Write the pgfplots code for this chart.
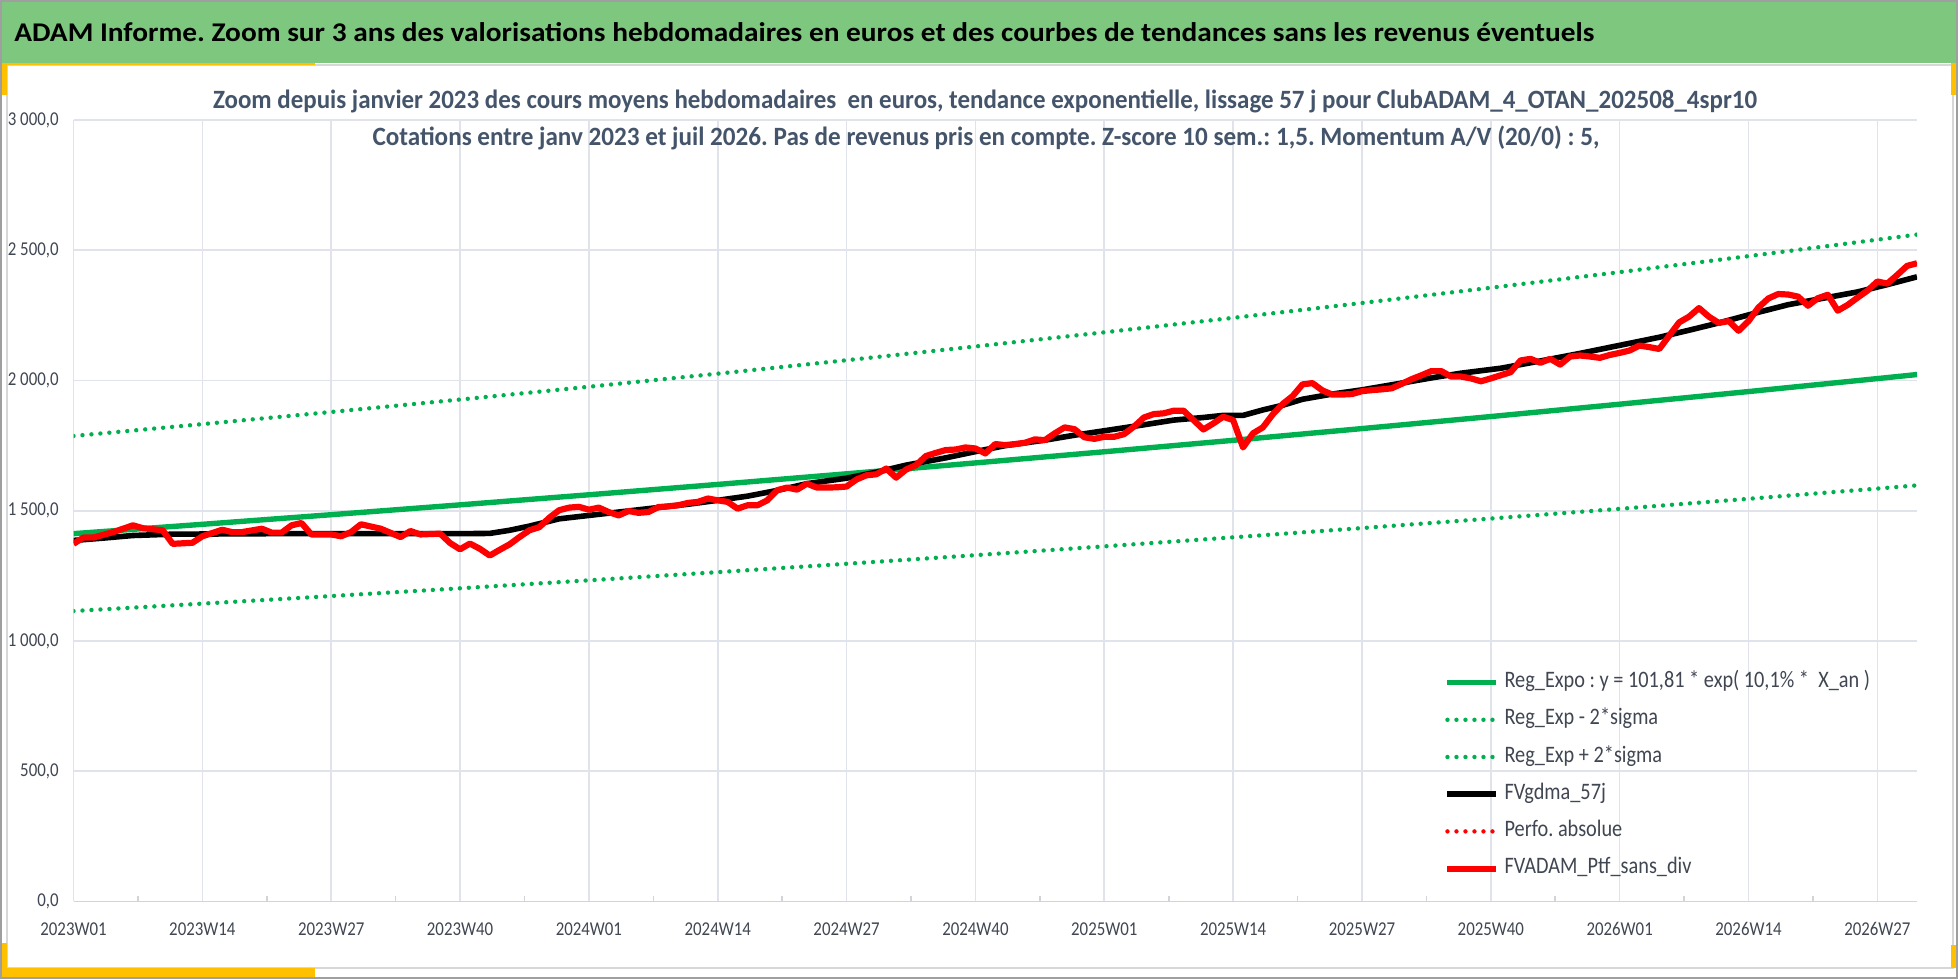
\documentclass[border=0pt]{standalone}
\usepackage{fontspec}
\setmainfont{Carlito}[FakeStretch=0.86]
\usepackage{pgfplots}
\pgfplotsset{compat=1.18}
\usepackage{graphicx}
\frenchspacing
\definecolor{hdrgreen}{RGB}{126,199,127}
\definecolor{pgreen}{RGB}{0,176,80}
\definecolor{gridc}{RGB}{224,227,234}
\definecolor{axisc}{RGB}{210,212,218}
\definecolor{labc}{RGB}{64,70,82}
\definecolor{subc}{RGB}{68,84,106}
\definecolor{accent}{RGB}{255,192,0}
\definecolor{framec}{RGB}{215,215,215}
\newsavebox\fitbox
\newcommand\fitw[2]{\sbox\fitbox{#2}\pgfmathsetmacro\fitsc{#1/\the\wd\fitbox}\scalebox{\fitsc}[1]{\usebox\fitbox}}
\begin{document}
\begin{tikzpicture}
\useasboundingbox (0,0) rectangle (979pt,489.5pt);
\fill[white] (0,0) rectangle (979pt,489.5pt);
\fill[hdrgreen] (0.8pt,458pt) rectangle (978.2pt,488.7pt);
\draw[framec, line width=0.7pt] (3.5pt,457pt) rectangle (976.5pt,5.5pt);
\draw[accent, line width=1pt] (0pt,457.5pt) -- (157.5pt,457.5pt);
\fill[accent] (0pt,442pt) rectangle (3.5pt,458pt);
\fill[accent] (975.5pt,442pt) rectangle (979pt,458pt);
\fill[accent] (0pt,0.5pt) rectangle (157.5pt,5.5pt);
\fill[accent] (0pt,0.5pt) rectangle (3.5pt,18pt);
\fill[accent] (975.5pt,5.5pt) rectangle (979pt,17pt);
\draw[gray!75, line width=0.8pt] (0.4pt,0.4pt) rectangle (978.6pt,489.1pt);
\node[anchor=base west, inner sep=0pt, text=black] at (7pt,468.6pt)
  {\fitw{790}{\bfseries\fontsize{13.5}{15}\selectfont ADAM Informe. Zoom sur 3 ans des valorisations hebdomadaires en euros et des courbes de tendances sans les revenus éventuels}};
\begin{axis}[
  at={(36.75pt,38.75pt)}, anchor=south west,
  scale only axis, width=921.75pt, height=390.75pt,
  xmin=0, xmax=186, ymin=0, ymax=3000,
  axis x line*=bottom, axis y line*=left,
  x axis line style={draw=axisc, line width=0.8pt, -},
  y axis line style={draw=none},
  xtick={0,13,...,182},
  xticklabels={2023W01,2023W14,2023W27,2023W40,2024W01,2024W14,2024W27,2024W40,2025W01,2025W14,2025W27,2025W40,2026W01,2026W14,2026W27},
  minor xtick={6.5,19.5,...,175.5},
  ytick={0,500,...,3000},
  yticklabels={{0,0},{500,0},{1 000,0},{1 500,0},{2 000,0},{2 500,0},{3 000,0}},
  grid=major, major grid style={draw=gridc, line width=0.8pt},
  major tick length=0pt, minor tick length=2.5pt, tick align=inside,
  minor tick style={draw=axisc, line width=0.8pt},
  tick label style={font=\fontsize{9.8}{11}\selectfont, text=labc},
  xticklabel style={anchor=center, inner sep=0pt, yshift=-13.75pt},
  yticklabel style={anchor=east, inner sep=0pt, xshift=-7.25pt},
  legend style={at={(rel axis cs:0.7434,0.0275)}, anchor=south west, draw=none, fill=none,
    inner sep=0pt, row sep=7.6pt, column sep=2.5pt,
    font=\fontsize{11.8}{14}\selectfont, text=labc,
    nodes={inner sep=0pt, text height=8pt, text depth=3pt}},
  legend cell align=left,
  legend image code/.code={\draw[#1] (0pt,0pt) -- (24.5pt,0pt);},
  clip=true,
]
\addplot[draw=pgreen, line width=2.7pt] coordinates {
(0,1412.0)(13,1447.9)(26,1484.8)(39,1522.6)(52,1561.3)(65,1601.0)(78,1641.8)(91,1683.6)(104,1726.4)(117,1770.3)(130,1815.4)(143,1861.6)(156,1909.0)(169,1957.5)(182,2007.3)(186,2022.9)};
\addlegendentry{Reg\_Expo : y = 101,81 * exp( 10,1\% *\ \ X\_an )}
\addplot[draw=pgreen, line width=2.2pt, line cap=round, dash pattern=on 0pt off 4.5pt] coordinates {
(0,1115.0)(13,1143.4)(26,1172.5)(39,1202.3)(52,1232.9)(65,1264.3)(78,1296.4)(91,1329.4)(104,1363.3)(117,1397.9)(130,1433.5)(143,1470.0)(156,1507.4)(169,1545.8)(182,1585.1)(186,1597.4)};
\addlegendentry{Reg\_Exp - 2*sigma}
\addplot[draw=pgreen, line width=2.2pt, line cap=round, dash pattern=on 0pt off 4.5pt] coordinates {
(0,1787.0)(13,1832.5)(26,1879.1)(39,1926.9)(52,1976.0)(65,2026.2)(78,2077.8)(91,2130.7)(104,2184.9)(117,2240.5)(130,2297.5)(143,2356.0)(156,2416.0)(169,2477.4)(182,2540.5)(186,2560.2)};
\addlegendentry{Reg\_Exp + 2*sigma}
\addplot[draw=black, line width=2.8pt, line join=round] coordinates {
(0,1386)(3,1395)(6,1405)(10,1410)(20,1412)(39,1412)(42,1413)(44,1425)(46,1441)(49,1469)(52,1482)(55,1495)(58,1508)(62,1525)(65,1540)(68,1556)(71,1578)(74,1604)(78,1625)(81,1648)(84,1675)(88,1703)(91,1727)(94,1750)(98,1771)(101,1790)(104,1807)(108,1830)(111,1848)(114,1858)(116,1866)(118,1866)(120,1887)(122,1905)(124,1928)(127,1948)(130,1964)(134,1990)(137,2010)(140,2028)(144,2047)(148,2075)(152,2104)(156,2135)(160,2166)(163,2193)(166,2221)(170,2262)(173,2291)(176,2312)(180,2340)(183,2368)(186,2398)};
\addlegendentry{FVgdma\_57j}
\addlegendimage{draw=red, line width=2.2pt, line cap=round, dash pattern=on 0pt off 4.5pt}
\addlegendentry{Perfo. absolue}
\addplot[draw=red, line width=3.1pt, line join=round] coordinates {
(0,1373)(1,1397)(2,1397)(4,1418)(6,1444)(7,1433)(9,1425)(10,1373)(12,1377)(13,1402)(15,1427)(16,1418)(17,1418)(19,1431)(20,1416)(21,1416)(22,1444)(23,1453)(24,1409)(26,1409)(27,1402)(28,1418)(29,1448)(31,1431)(33,1399)(34,1422)(35,1409)(37,1412)(38,1376)(39,1352)(40,1374)(41,1354)(42,1328)(43,1350)(44,1371)(45,1399)(46,1425)(47,1437)(48,1473)(49,1502)(50,1512)(51,1515)(52,1504)(53,1512)(54,1495)(55,1482)(56,1499)(57,1492)(58,1495)(59,1514)(60,1517)(61,1521)(62,1530)(63,1534)(64,1547)(65,1540)(66,1534)(67,1508)(68,1521)(69,1521)(70,1540)(71,1579)(72,1589)(73,1581)(74,1604)(75,1589)(76,1589)(77,1590)(78,1593)(79,1620)(80,1636)(81,1640)(82,1662)(83,1627)(84,1658)(85,1675)(86,1710)(87,1722)(88,1733)(89,1735)(90,1743)(91,1739)(92,1720)(93,1756)(94,1752)(95,1756)(96,1761)(97,1774)(98,1771)(99,1797)(100,1820)(101,1813)(102,1782)(103,1776)(104,1784)(105,1784)(106,1794)(107,1823)(108,1858)(109,1871)(110,1874)(111,1884)(112,1884)(113,1848)(114,1812)(115,1835)(116,1861)(117,1848)(118,1743)(119,1797)(120,1820)(121,1870)(122,1910)(123,1940)(124,1985)(125,1990)(126,1962)(127,1946)(128,1946)(129,1948)(130,1959)(131,1963)(132,1966)(133,1970)(134,1987)(135,2005)(136,2020)(137,2036)(138,2036)(139,2015)(140,2015)(141,2008)(142,1997)(143,2008)(144,2020)(145,2032)(146,2077)(147,2083)(148,2068)(149,2083)(150,2061)(151,2092)(152,2096)(153,2092)(154,2087)(155,2098)(156,2106)(157,2115)(158,2134)(159,2128)(160,2121)(161,2172)(162,2223)(163,2245)(164,2278)(165,2245)(166,2221)(167,2228)(168,2191)(169,2228)(170,2280)(171,2315)(172,2332)(173,2330)(174,2322)(175,2287)(176,2316)(177,2329)(178,2268)(179,2290)(180,2318)(181,2345)(182,2380)(183,2372)(184,2405)(185,2440)(186,2450)};
\addlegendentry{FVADAM\_Ptf\_sans\_div}
\end{axis}
\node[anchor=base, inner sep=0pt, text=subc] at (492.5pt,435pt)
  {\fitw{772}{\bfseries\fontsize{13.2}{15}\selectfont Zoom depuis janvier 2023 des cours moyens hebdomadaires\ \ en euros, tendance exponentielle, lissage 57 j pour ClubADAM\_4\_OTAN\_202508\_4spr10}};
\node[anchor=base, inner sep=0pt, text=subc] at (493pt,416.5pt)
  {\fitw{613.5}{\bfseries\fontsize{13.2}{15}\selectfont Cotations entre janv 2023 et juil 2026. Pas de revenus pris en compte. Z-score 10 sem.: 1,5. Momentum A/V (20/0) : 5,}};
\end{tikzpicture}
\end{document}
